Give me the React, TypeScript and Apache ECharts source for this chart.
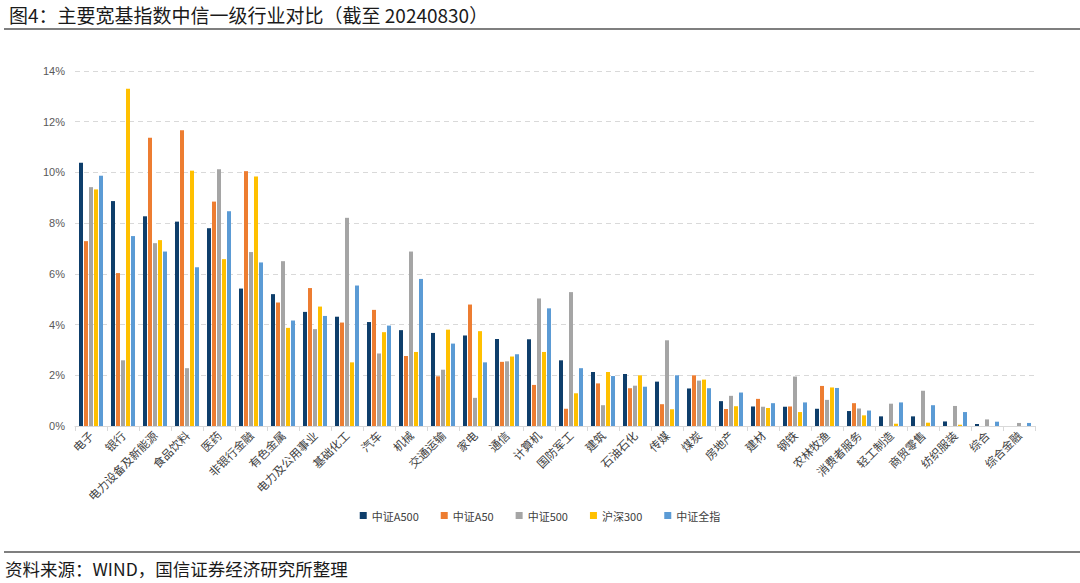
import React, { useEffect, useRef } from "react";
import * as echarts from "echarts";

const categories = [
  "电子", "银行", "电力设备及新能源", "食品饮料", "医药", "非银行金融", "有色金属", "电力及公用事业",
  "基础化工", "汽车", "机械", "交通运输", "家电", "通信", "计算机", "国防军工", "建筑", "石油石化",
  "传媒", "煤炭", "房地产", "建材", "钢铁", "农林牧渔", "消费者服务", "轻工制造", "商贸零售",
  "纺织服装", "综合", "综合金融",
];

const seriesNames = ["中证A500", "中证A50", "中证500", "沪深300", "中证全指"];

const csiA500 = [10.38, 8.87, 8.27, 8.06, 7.8, 5.42, 5.2, 4.5, 4.31, 4.1, 3.78, 3.67, 3.57, 3.43, 3.42, 2.59, 2.13, 2.05, 1.75, 1.48, 0.98, 0.77, 0.76, 0.68, 0.59, 0.38, 0.38, 0.18, 0.08, 0.0];
const csiA50 = [7.29, 6.03, 11.37, 11.66, 8.85, 10.05, 4.87, 5.44, 4.08, 4.58, 2.76, 1.96, 4.79, 2.53, 1.62, 0.68, 1.68, 1.49, 0.86, 2.0, 0.67, 1.07, 0.77, 1.58, 0.9, 0.0, 0.0, 0.0, 0.0, 0.0];
const csi500 = [9.42, 2.59, 7.21, 2.28, 10.13, 6.86, 6.5, 3.82, 8.21, 2.86, 6.88, 2.22, 1.11, 2.55, 5.03, 5.28, 0.82, 1.59, 3.38, 1.79, 1.19, 0.76, 1.95, 1.03, 0.69, 0.88, 1.39, 0.79, 0.26, 0.12];
const hs300 = [9.33, 13.3, 7.33, 10.07, 6.58, 9.84, 3.87, 4.71, 2.51, 3.7, 2.92, 3.8, 3.74, 2.74, 2.92, 1.29, 2.13, 2.0, 0.66, 1.83, 0.78, 0.71, 0.55, 1.52, 0.42, 0.09, 0.13, 0.05, 0.0, 0.0];
const csiAll = [9.87, 7.49, 6.88, 6.26, 8.47, 6.45, 4.16, 4.34, 5.54, 3.96, 5.8, 3.25, 2.51, 2.83, 4.64, 2.28, 1.97, 1.55, 2.0, 1.49, 1.32, 0.9, 0.93, 1.5, 0.61, 0.93, 0.82, 0.55, 0.17, 0.12];

const yTicks = [0, 2, 4, 6, 8, 10, 12, 14];

const colors = ["#0E3E6B", "#ED7D31", "#A5A5A5", "#FFC000", "#5B9BD5"];

export default function App() {
  const ref = useRef<HTMLDivElement>(null);
  useEffect(() => {
    if (!ref.current) return;
    const chart = echarts.init(ref.current, undefined, { renderer: "svg" });
    const allData = [csiA500, csiA50, csi500, hs300, csiAll];
    const cjk = "'Noto Sans CJK SC', 'Noto Sans', sans-serif";
    chart.setOption({
      animation: false,
      backgroundColor: "#ffffff",
      color: colors,
      title: {
        text: "图4：主要宽基指数中信一级行业对比（截至 20240830）",
        left: 4,
        top: 0,
        textStyle: { fontFamily: cjk, fontSize: 19, fontWeight: "normal", color: "#1a1a1a" },
      },
      graphic: [
        { type: "line", shape: { x1: 4, y1: 29, x2: 1080, y2: 29 }, style: { stroke: "#7f7f7f", lineWidth: 2 } },
        { type: "line", shape: { x1: 4, y1: 552, x2: 1080, y2: 552 }, style: { stroke: "#7f7f7f", lineWidth: 2 } },
        {
          type: "text",
          left: 5,
          top: 560,
          style: { text: "资料来源：WIND，国信证券经济研究所整理", fontFamily: cjk, fontSize: 17.5, fill: "#1a1a1a" },
        },
      ],
      legend: {
        data: seriesNames,
        left: "center",
        top: 505,
        icon: "rect",
        itemWidth: 7,
        itemHeight: 7,
        itemGap: 22,
        textStyle: { fontFamily: cjk, fontSize: 11, color: "#404040" },
      },
      grid: { left: 75, right: 45, top: 71, bottom: 157 },
      xAxis: {
        type: "category",
        data: categories,
        axisLine: { lineStyle: { color: "#d9d9d9" } },
        axisTick: { show: true, length: 5, lineStyle: { color: "#d9d9d9" } },
        axisLabel: {
          interval: 0,
          rotate: 45,
          fontSize: 11.5,
          fontFamily: cjk,
          color: "#404040",
          margin: 7,
        },
      },
      yAxis: {
        type: "value",
        min: yTicks[0],
        max: yTicks[yTicks.length - 1],
        interval: 2,
        axisLine: { show: false },
        axisTick: { show: false },
        axisLabel: {
          formatter: "{value}%",
          fontSize: 11,
          fontFamily: "Arial, 'Liberation Sans', sans-serif",
          color: "#595959",
          margin: 10,
        },
        splitLine: { lineStyle: { color: "#d9d9d9", type: [5, 4] } },
      },
      series: seriesNames.map((name, i) => ({
        name,
        type: "bar",
        data: allData[i],
        barWidth: 4,
        barGap: "25%",
        itemStyle: { color: colors[i] },
      })),
    });
    return () => chart.dispose();
  }, []);
  return (
    <div
      ref={ref}
      style={{ position: "absolute", left: 0, top: 0, width: 1080, height: 583 }}
    />
  );
}
